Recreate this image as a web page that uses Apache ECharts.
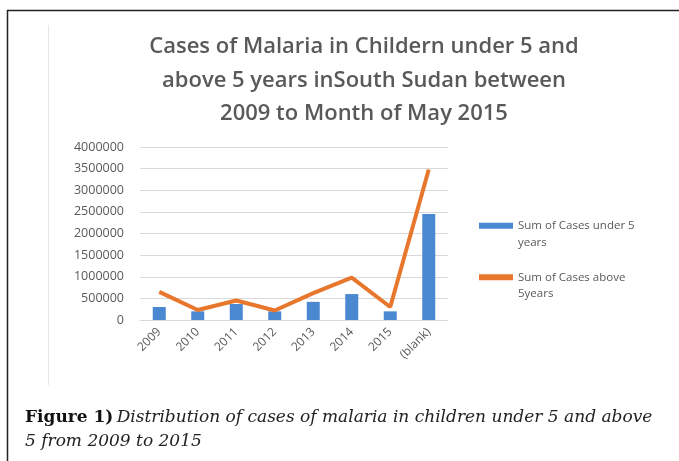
<!DOCTYPE html>
<html>
<head>
<meta charset="utf-8">
<script src="https://cdn.jsdelivr.net/npm/echarts@6/dist/echarts.min.js"></script>
<style>
  html, body { margin: 0; padding: 0; background: #fff; }
  #chart { width: 679px; height: 461px; }
</style>
</head>
<body>
<div id="chart"></div>
<script>
const categories = ['2009', '2010', '2011', '2012', '2013', '2014', '2015', '(blank)'];
const casesUnder5 = [300000, 200000, 370000, 200000, 420000, 600000, 200000, 2450000];
const casesAbove5 = [650000, 230000, 450000, 220000, 620000, 980000, 300000, 3480000];
const titleLines = [
  'Cases of Malaria in Childern under 5 and',
  'above 5 years inSouth Sudan between',
  '2009 to Month of May 2015'
];

const chart = echarts.init(document.getElementById('chart'));

const option = {
  animation: false,
  title: {
    text: titleLines.join('\n'),
    left: 359,
    top: 25,
    textAlign: 'center',
    textStyle: {
      fontFamily: 'Open Sans',
      fontWeight: 600,
      fontSize: 22,
      lineHeight: 33.5,
      color: '#595959'
    }
  },
  grid: { left: 140, right: 231, top: 147, bottom: 141 },
  legend: {
    orient: 'vertical',
    left: 474,
    top: 196,
    itemWidth: 34,
    itemHeight: 6,
    itemGap: 2,
    icon: 'rect',
    // leading blank line keeps the icon level with the first text line
    formatter: function (name) { return ' \n' + name; },
    textStyle: {
      fontFamily: 'Open Sans',
      fontSize: 11.5,
      lineHeight: 16.5,
      color: '#595959'
    },
    data: ['Sum of Cases under 5\nyears', 'Sum of Cases above\n5years']
  },
  xAxis: {
    type: 'category',
    data: categories,
    axisTick: { show: false },
    axisLine: { lineStyle: { color: '#d9d9d9' } },
    axisLabel: {
      rotate: 45,
      margin: 10,
      color: '#595959',
      fontFamily: 'Open Sans',
      fontSize: 12
    }
  },
  yAxis: {
    type: 'value',
    min: 0,
    max: 4000000,
    interval: 500000,
    axisLabel: {
      color: '#595959',
      fontFamily: 'Open Sans',
      fontSize: 12.5,
      margin: 16,
      formatter: function (v) { return String(v); }
    },
    splitLine: { lineStyle: { color: '#d9d9d9' } }
  },
  series: [
    {
      name: 'Sum of Cases under 5\nyears',
      type: 'bar',
      data: casesUnder5,
      barWidth: 13,
      itemStyle: { color: '#4a89d2' }
    },
    {
      name: 'Sum of Cases above\n5years',
      type: 'line',
      data: casesAbove5,
      symbol: 'none',
      lineStyle: { width: 4, color: '#e8772e' },
      itemStyle: { color: '#e8772e' }
    }
  ],
  graphic: [
    { type: 'line', shape: { x1: 7, y1: 10.5, x2: 679, y2: 10.5 }, style: { stroke: '#222', lineWidth: 1.5 } },
    { type: 'line', shape: { x1: 7.5, y1: 10, x2: 7.5, y2: 461 }, style: { stroke: '#222', lineWidth: 1.5 } },
    { type: 'line', shape: { x1: 48.5, y1: 25, x2: 48.5, y2: 385 }, style: { stroke: '#e6e6e6', lineWidth: 1 } },
    {
      type: 'text',
      left: 25,
      top: 409,
      style: {
        text: '{b|Figure 1)} {i|Distribution of cases of malaria in children under 5 and above}\n{i|5 from 2009 to 2015}',
        rich: {
          b: { fontFamily: 'DejaVu Serif', fontWeight: 'bold', fontSize: 17, fill: '#111', lineHeight: 24 },
          i: { fontFamily: 'DejaVu Serif', fontStyle: 'italic', fontSize: 17, fill: '#222', lineHeight: 24 }
        }
      }
    }
  ]
};

chart.setOption(option);
</script>
</body>
</html>
